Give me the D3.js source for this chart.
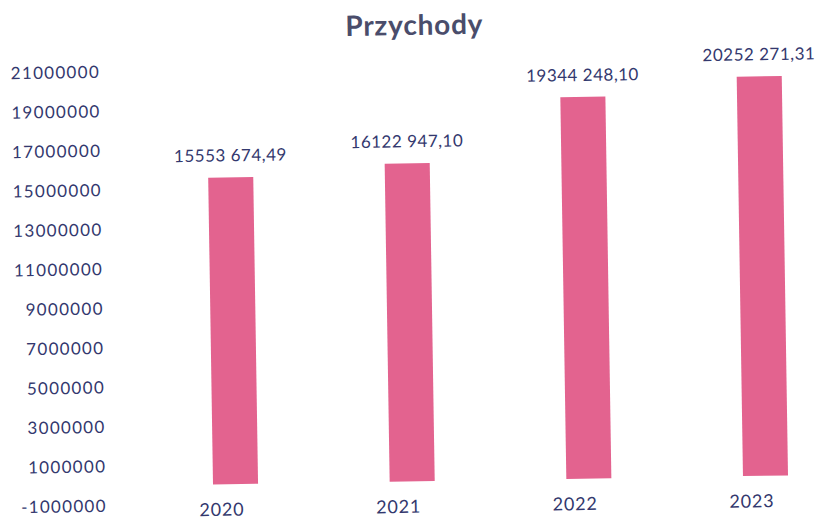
<!DOCTYPE html>
<html><head><meta charset="utf-8">
<script src="https://cdn.jsdelivr.net/npm/d3@7"></script>
<style>body{margin:0;background:#fff}svg{display:block}</style>
</head><body>
<script>
const categories = ["2020", "2021", "2022", "2023"];
const values = [15553674.49, 16122947.10, 19344248.10, 20252271.31];
const valueLabels = ["15553 674,49", "16122 947,10", "19344 248,10", "20252 271,31"];
const tickValues = [-1000000, 1000000, 3000000, 5000000, 7000000, 9000000, 11000000, 13000000, 15000000, 17000000, 19000000, 21000000];
const title = "Przychody";

const W = 827, H = 521;
const svg = d3.select("body").append("svg").attr("width", W).attr("height", H);
const g = svg.append("g").attr("transform", "rotate(-0.9,413,260)");

const textColor = "#33386e";
const barColor = "#e3638f";

const y = d3.scaleLinear().domain([-1000000, 21000000]).range([501, 67]);
const x = d3.scaleBand().domain(categories).range([143.7, 850.4])
  .paddingInner(0.745).paddingOuter(0.3725);

// title
g.append("text").attr("x", 418).attr("y", 35).attr("text-anchor", "middle")
  .attr("font-family", "Lato").attr("font-weight", "bold").attr("font-size", 28)
  .attr("letter-spacing", 0.8).attr("fill", "#4a4d6b").text(title);

// y axis
const yAxis = d3.axisLeft(y).tickValues(tickValues).tickSize(0).tickPadding(0)
  .tickFormat(d => d < 0 ? "-" + Math.abs(d) : String(d));
const ya = g.append("g").attr("transform", "translate(103,0)").call(yAxis);
ya.select(".domain").remove();
ya.selectAll("text").attr("font-family", "Lato").attr("font-size", 17)
  .attr("letter-spacing", 1.3).attr("fill", textColor);

// x axis
const xAxis = d3.axisBottom(x).tickSize(0).tickPadding(0);
const xa = g.append("g").attr("transform", "translate(-14,500)").call(xAxis);
xa.select(".domain").remove();
xa.selectAll("text").attr("font-family", "Lato").attr("font-size", 18)
  .attr("letter-spacing", 0.8).attr("fill", textColor);

// bars
g.selectAll("rect.bar").data(values).join("rect").attr("class", "bar")
  .attr("x", (d, i) => x(categories[i]))
  .attr("width", x.bandwidth())
  .attr("y", d => y(d))
  .attr("height", d => y(0) - y(d))
  .attr("fill", barColor);

// value labels
g.selectAll("text.vl").data(values).join("text").attr("class", "vl")
  .attr("x", (d, i) => x(categories[i]) + x.bandwidth() / 2)
  .attr("y", d => y(d) - 16)
  .attr("text-anchor", "middle")
  .attr("font-family", "Lato").attr("font-size", 17).attr("letter-spacing", 0.5)
  .attr("fill", textColor)
  .text((d, i) => valueLabels[i]);
</script>
</body></html>
